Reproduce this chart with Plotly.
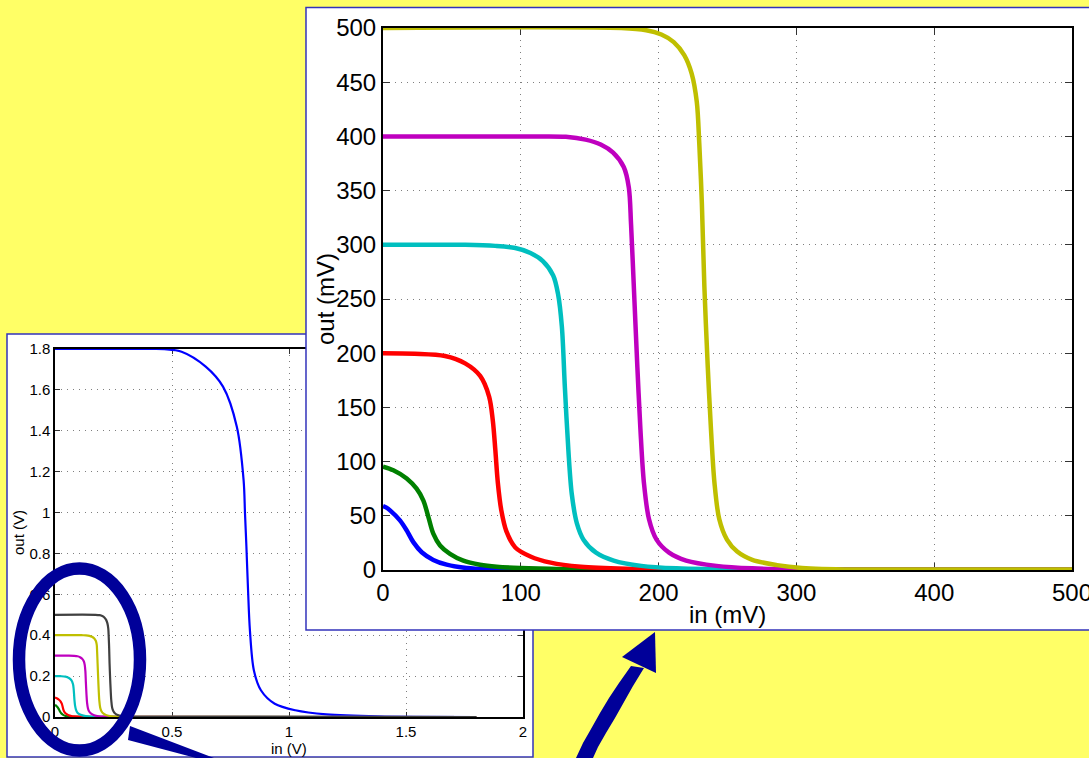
import plotly.graph_objects as go

W, H = 1089, 758

# Inverter transfer curves, input and output in mV, one pair of arrays per supply level
vin_60 = [0, 2.5, 5.1, 12.3, 17.2, 22, 28.1, 36.5, 46.2, 60.7, 77.6, 100, 150, 1800]
vout_60 = [59, 57.5, 55, 45.8, 36.5, 25.7, 16.4, 9.3, 4.9, 1.8, 0.6, 0.2, 0, 0]

vin_95 = [0, 7.5, 17.2, 24.4, 29.3, 32.9, 36.5, 41.4, 48.6, 58.3, 70.4, 82.5, 99.4, 130, 200, 1800]
vout_95 = [95.4, 92, 84.5, 75, 64, 49, 33.5, 22.6, 14.9, 8.6, 4.9, 3, 1.8, 0.8, 0.2, 0]

vin_200 = [0, 23, 45, 59.6, 70.5, 77, 79.7, 81.5, 83.3, 85.9, 89.5, 96, 107, 121.7, 143.6, 176.5, 230, 1800]
vout_200 = [200, 199.5, 197.4, 190.6, 179, 160, 137.7, 111, 81, 54.7, 35.8, 20.8, 12.5, 6.8, 3, 1.1, 0.3, 0]

vin_300 = [0, 59.6, 81.5, 96, 107, 116, 123.5, 127, 129.8, 132, 134.5, 137, 140.7, 145.5, 154.6, 167.4, 187.5, 213, 270, 1800]
vout_300 = [300, 300, 299, 297, 292.5, 285, 271.7, 254.7, 224.5, 168, 111, 70, 43, 28, 16, 8.7, 3.8, 1.5, 0.3, 0]

vin_400 = [0, 114, 132.7, 147, 158, 167, 174.7, 178.4, 180, 182, 184.6, 186.8, 189.3, 193, 198.5, 207.6, 220, 242, 268, 320, 1800]
vout_400 = [400, 400, 399.6, 397, 392.5, 385, 371.7, 352.8, 319, 262, 187, 130, 81, 47, 28, 16, 8.7, 3.8, 1.5, 0.3, 0]

vin_500 = [0, 172.9, 191, 202, 211, 218.6, 224, 227.7, 229.5, 231.4, 233.2, 235.7, 238, 240.5, 244, 249.6, 257, 268, 286, 304, 341, 1800]
vout_500 = [500, 500, 498, 494, 487, 475, 458, 432, 394, 338, 262, 187, 130, 81, 47, 28, 17, 9.4, 4.5, 1.9, 0.4, 0]

vin_1800 = [0, 400, 467, 541, 644, 718, 777, 806, 812, 818, 825, 833, 850, 880, 939, 1027, 1160, 1380, 1800]
vout_1800 = [1800, 1800, 1799, 1787, 1714, 1616, 1420, 1159, 995, 833, 620, 424, 228, 131, 65, 33, 13, 3, 0]

# Tick labels
full_xticks = [0, 0.5, 1, 1.5, 2]
full_xlabels = ["0", "0.5", "1", "1.5", "2"]
full_yticks = [0, 0.2, 0.4, 0.6, 0.8, 1.0, 1.2, 1.4, 1.6, 1.8]
full_ylabels = ["0", "0.2", "0.4", "0.6", "0.8", "1", "1.2", "1.4", "1.6", "1.8"]
zoom_xticks = [0, 100, 200, 300, 400, 500]
zoom_yticks = [0, 50, 100, 150, 200, 250, 300, 350, 400, 450, 500]

# (x, y, colour) per curve; the full-range plot and the zoomed plot colour them differently
full_curves = [
    (vin_1800, vout_1800, "#0000FF"),
    (vin_60, vout_60, "#008000"),
    (vin_95, vout_95, "#FF0000"),
    (vin_200, vout_200, "#00BFBF"),
    (vin_300, vout_300, "#BF00BF"),
    (vin_400, vout_400, "#BFBF00"),
    (vin_500, vout_500, "#404040"),
]
zoom_curves = [
    (vin_60, vout_60, "#0000FF"),
    (vin_95, vout_95, "#008000"),
    (vin_200, vout_200, "#FF0000"),
    (vin_300, vout_300, "#00BFBF"),
    (vin_400, vout_400, "#BF00BF"),
    (vin_500, vout_500, "#BFBF00"),
]

FONT = "Liberation Sans, Arial, Helvetica, sans-serif"
NAVY = "#000099"
FRAME = "#3333BB"


def px(x):
    return x / W


def py(y):
    return 1 - y / H


def poly(points):
    """SVG path in paper units from a list of pixel points."""
    parts = ["{} {:.5f},{:.5f}".format("M" if i == 0 else "L", px(x), py(y))
             for i, (x, y) in enumerate(points)]
    return " ".join(parts) + " Z"


fig = go.Figure()

for xs, ys, col in full_curves:
    fig.add_trace(go.Scatter(
        x=[v / 1000 for v in xs], y=[v / 1000 for v in ys], mode="lines",
        line=dict(color=col, width=2.2, shape="spline", smoothing=0.9),
        xaxis="x", yaxis="y", showlegend=False, hoverinfo="skip"))

# empty layer whose white background hides the full-range plot behind the zoom panel
fig.add_trace(go.Scatter(x=[], y=[], xaxis="x2", yaxis="y2",
                         showlegend=False, hoverinfo="skip"))

for xs, ys, col in zoom_curves:
    fig.add_trace(go.Scatter(
        x=xs, y=ys, mode="lines",
        line=dict(color=col, width=4.5, shape="spline", smoothing=0.9),
        xaxis="x3", yaxis="y3", showlegend=False, hoverinfo="skip"))

axis_common = dict(
    showline=True, linecolor="black", mirror="ticks", ticks="inside",
    tickcolor="#333333", showgrid=True, gridcolor="#7f7f7f", griddash="1px,5px",
    gridwidth=1, zeroline=False, layer="below traces", color="black",
    automargin=False, ticklabeloverflow="allow",
)

fig.update_layout(
    width=W, height=H, margin=dict(l=0, r=0, t=0, b=0, pad=0),
    paper_bgcolor="#FFFF66", plot_bgcolor="white",
    font=dict(family=FONT, color="black"),
    xaxis=dict(domain=[px(55), px(523)], range=[0, 2], anchor="y",
               tickvals=full_xticks, ticktext=full_xlabels, ticklen=5,
               linewidth=1.5, tickfont=dict(size=15), **axis_common),
    yaxis=dict(domain=[py(717), py(349)], range=[0, 1.8], anchor="x",
               tickvals=full_yticks, ticktext=full_ylabels, ticklen=5,
               linewidth=1.5, tickfont=dict(size=15), **axis_common),
    xaxis2=dict(domain=[px(306), 1], range=[0, 1], anchor="y2", visible=False,
                automargin=False),
    yaxis2=dict(domain=[py(630), py(7.5)], range=[0, 1], anchor="x2", visible=False,
                automargin=False),
    xaxis3=dict(domain=[px(383), px(1072)], range=[0, 500], anchor="y3",
                tickvals=zoom_xticks, ticklen=7, linewidth=2,
                tickfont=dict(size=24), **axis_common),
    yaxis3=dict(domain=[py(570), py(28)], range=[0, 500], anchor="x3",
                tickvals=zoom_yticks, ticklen=7, linewidth=2,
                tickfont=dict(size=24), **axis_common),
)

# axis titles
titles = [
    (18, 533, "out (V)", -90, 15),
    (289, 748, "in (V)", 0, 15),
    (325, 299, "out (mV)", -90, 24),
    (728, 614, "in (mV)", 0, 24),
]
for x, y, text, angle, size in titles:
    fig.add_annotation(x=px(x), y=py(y), text=text, textangle=angle, showarrow=False,
                       xref="paper", yref="paper", xanchor="center", yanchor="middle",
                       font=dict(size=size))

# panel frames (the zoom panel runs off the right edge, the full panel off the bottom)
fig.add_shape(type="path", xref="paper", yref="paper", layer="below",
              path="M {:.5f},{:.5f} L {:.5f},{:.5f} L {:.5f},{:.5f} L {:.5f},{:.5f} Z".format(
                  px(7), py(757), px(7), py(334), px(533), py(334), px(533), py(757)),
              fillcolor="white", line=dict(color=FRAME, width=1.5))
fig.add_shape(type="path", xref="paper", yref="paper", layer="above",
              path="M 1,{:.5f} L {:.5f},{:.5f} L {:.5f},{:.5f} L 1,{:.5f}".format(
                  py(7.5), px(306), py(7.5), px(306), py(630), py(630)),
              line=dict(color=FRAME, width=1.5))

# magnifying glass around the low-supply curves
fig.add_shape(type="circle", xref="paper", yref="paper", layer="above",
              x0=px(79.5 - 60.5), x1=px(79.5 + 60.5), y0=py(659.5 + 91), y1=py(659.5 - 91),
              line=dict(color=NAVY, width=12.5))
fig.add_shape(type="path", xref="paper", yref="paper", layer="above",
              path=poly([(130, 726), (128, 740), (196, 758), (214, 758)]),
              fillcolor=NAVY, line=dict(width=0))

# curved arrow pointing up to the zoomed panel
shaft = [(576, 758), (583, 743), (591, 729), (600, 713), (609, 698), (619, 683), (631, 666),
         (644, 668), (633, 686), (624, 702), (615, 718), (606, 733), (598, 747), (593, 758)]
fig.add_shape(type="path", xref="paper", yref="paper", layer="above",
              path=poly(shaft), fillcolor=NAVY, line=dict(width=0))
fig.add_shape(type="path", xref="paper", yref="paper", layer="above",
              path=poly([(655, 632), (622, 657), (656, 673)]),
              fillcolor=NAVY, line=dict(width=0))

fig.write_html("out.html")
